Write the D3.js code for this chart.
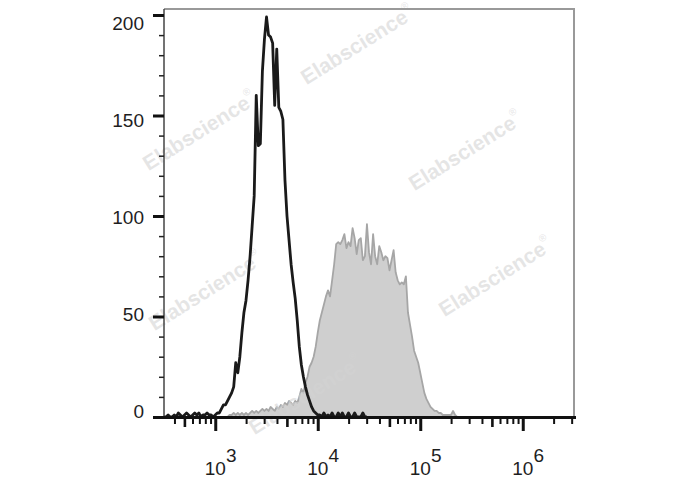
<!DOCTYPE html>
<html><head><meta charset="utf-8">
<script src="https://cdn.jsdelivr.net/npm/d3@7"></script>
<style>html,body{margin:0;padding:0;background:#fff}svg{display:block}</style>
</head><body>
<svg id="chart" width="688" height="490"></svg>
<script>
// ---------------- data ----------------
const binStepLog = 0.02;            // channel width in log10 units
const controlStartLog = 2.5;        // first channel of the black (control) histogram
const controlCounts = [
  0,0,1,0,0,1,0,2,1,0,1,2,1,0,1,2,1,2,0,1,1,2,1,1,0,1,
  2,2,4,6,6,8,10,12,15,27,22,30,42,52,58,68,80,95,110,160,135,136,172,188,
  199,190,189,186,155,183,154,152,148,118,100,88,76,67,59,48,35,26,20,15,
  11,8,5,3,2,1,1,0,2,0,1,0,2,0,0,2,0,2,0,0,2,0,0,2,0,0,0,2,0,0
];
const stainedStartLog = 3.1;        // first channel of the gray (stained) histogram
const stainedCounts = [
  0,0,1,1,2,1,2,1,2,1,2,1,2,3,2,3,2,3,4,3,4,3,5,4,3,5,4,6,5,7,
  6,8,7,6,8,7,10,14,12,17,20,25,27,30,35,42,48,52,56,60,63,60,68,76,86,87,86,88,91,84,
  87,85,94,89,81,88,89,78,80,96,82,76,91,80,76,85,82,78,80,79,73,78,83,72,68,66,67,66,70,52,
  46,40,33,30,27,22,17,12,9,7,5,4,3,3,2,2,1,1,1,1,1,3,1,0
];
const yTickLabels = [0, 50, 100, 150, 200];
const yMinorStep = 10;
const xDecadeExponents = [3, 4, 5, 6];
const watermarkText = "Elabscience";

// ---------------- layout ----------------
const svg = d3.select("#chart");
const L = 164, R = 574, T = 9, B = 417;
const x = d3.scaleLog().domain([Math.pow(10, 2.5), Math.pow(10, 6.5)]).range([L, R]);
const y = d3.scaleLinear().domain([0, 200]).range([B, 15]);
const yLab = d3.scaleLinear().domain([0, 200]).range([411, 23]);
const font = "'Liberation Sans', Arial, Helvetica, sans-serif";

const toPts = (start, arr) => arr.map((c, i) => ({v: Math.pow(10, start + i * binStepLog), c}));
const ctrl = toPts(controlStartLog, controlCounts);
const stain = toPts(stainedStartLog, stainedCounts);

// stained histogram (filled)
const area = d3.area().x(d => x(d.v)).y0(y(0)).y1(d => y(d.c));
const line = d3.line().x(d => x(d.v)).y(d => y(d.c));
svg.append("path").datum(stain).attr("d", area).attr("fill", "#cfcfcf");
svg.append("path").datum(stain).attr("d", line).attr("fill", "none")
  .attr("stroke", "#a6a6a6").attr("stroke-width", 1.8).attr("stroke-linejoin", "round");

// watermarks
const wm = [[358, 46], [200, 132], [466, 152], [206, 292], [496, 278], [306, 396]];
wm.forEach(([cx, cy]) => {
  const t = svg.append("text")
    .attr("transform", `translate(${cx},${cy}) rotate(-32)`)
    .attr("text-anchor", "middle").attr("dominant-baseline", "middle")
    .attr("font-family", font).attr("font-weight", "bold").attr("font-size", 21)
    .attr("fill", "#d4d4d4").attr("fill-opacity", 0.6);
  t.append("tspan").text(watermarkText);
  t.append("tspan").text("®").attr("font-size", 10).attr("font-weight", "normal").attr("dy", -9);
});

// control histogram (black outline)
svg.append("path").datum(ctrl).attr("d", line).attr("fill", "none")
  .attr("stroke", "#1a1a1a").attr("stroke-width", 2.8).attr("stroke-linejoin", "round");

// frame
svg.append("line").attr("x1", L).attr("x2", R + 1).attr("y1", T).attr("y2", T)
  .attr("stroke", "#999").attr("stroke-width", 2);
svg.append("line").attr("x1", R).attr("x2", R).attr("y1", T).attr("y2", B + 1)
  .attr("stroke", "#999").attr("stroke-width", 2);
svg.append("line").attr("x1", L).attr("x2", L).attr("y1", T).attr("y2", B + 1)
  .attr("stroke", "#444").attr("stroke-width", 1.5);

// y axis ticks
const yMinor = d3.range(0, 201, yMinorStep).filter(v => v % 50 !== 0);
const gyMin = svg.append("g").attr("transform", `translate(${L},0)`)
  .call(d3.axisLeft(y).tickValues(yMinor).tickSize(5).tickFormat(""));
gyMin.selectAll("line").attr("stroke", "#222").attr("stroke-width", 1.5);
const gyMaj = svg.append("g").attr("transform", `translate(${L},0)`)
  .call(d3.axisLeft(y).tickValues(yTickLabels).tickSize(11).tickFormat(""));
gyMaj.selectAll("line").attr("stroke", "#111").attr("stroke-width", 3);
[gyMin, gyMaj].forEach(g => g.select(".domain").remove());
svg.append("g").selectAll("text").data(yTickLabels).join("text")
  .attr("x", 144).attr("y", d => yLab(d)).attr("dy", "0.36em")
  .attr("text-anchor", "end").attr("font-family", font).attr("font-size", 19)
  .attr("fill", "#1e1e1e").text(d => d);

// x axis
const xMinor = [], xMid = [];
[2, 3, 4, 5, 6].forEach(k => [2, 3, 4, 5, 6, 7, 8, 9].forEach(m => {
  const v = m * Math.pow(10, k);
  if (v > x.domain()[0] && v < x.domain()[1]) (m === 5 ? xMid : xMinor).push(v);
}));
const xMajor = xDecadeExponents.map(e => Math.pow(10, e));
const mkX = (vals, size, w) => {
  const g = svg.append("g").attr("transform", `translate(0,${B + 1})`)
    .call(d3.axisBottom(x).tickValues(vals).tickSize(size).tickFormat(""));
  g.select(".domain").remove();
  g.selectAll("line").attr("stroke", "#111").attr("stroke-width", w);
};
mkX(xMinor, 6, 2);
mkX(xMid, 9, 2.6);
mkX(xMajor, 13, 3);
svg.append("line").attr("x1", L - 4).attr("x2", R + 2).attr("y1", B + 0.5).attr("y2", B + 0.5)
  .attr("stroke", "#111").attr("stroke-width", 3);

const xl = svg.append("g").selectAll("text").data(xDecadeExponents).join("text")
  .attr("x", d => x(Math.pow(10, d))).attr("y", 475)
  .attr("font-family", font).attr("font-size", 19).attr("fill", "#1e1e1e")
  .attr("text-anchor", "start");
xl.append("tspan").attr("dx", -10.5).text("10");
xl.append("tspan").attr("dy", -13).text(d => d);
</script>
</body></html>
